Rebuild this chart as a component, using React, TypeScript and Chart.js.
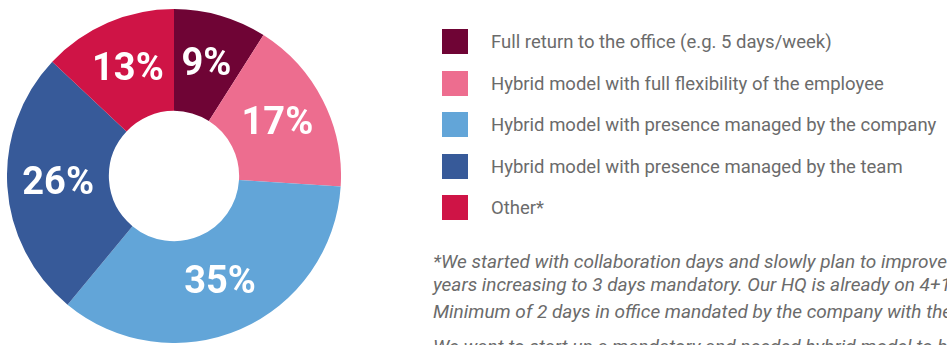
import React, { useEffect, useRef } from "react";
import { Chart, registerables } from "chart.js";

Chart.register(...registerables);

const categories = [
  "Full return to the office (e.g. 5 days/week)",
  "Hybrid model with full flexibility of the employee",
  "Hybrid model with presence managed by the company",
  "Hybrid model with presence managed by the team",
  "Other*",
];
const values = [9, 17, 35, 26, 13];
const colors = ["#6f0435", "#ed6d8f", "#62a5d8", "#375a99", "#cf1446"];
const footnoteLines = [
  "*We started with collaboration days and slowly plan to improve it over the next",
  "years increasing to 3 days mandatory. Our HQ is already on 4+1 model.",
  "Minimum of 2 days in office mandated by the company with the rest flexible.",
  "We want to start up a mandatory and needed hybrid model to be",
];
const footnoteTops = [251, 274, 301, 336];

const labelPlugin = {
  id: "sliceLabels",
  afterDatasetsDraw(chart: any) {
    const ctx = chart.ctx;
    const meta = chart.getDatasetMeta(0);
    ctx.save();
    ctx.fillStyle = "#ffffff";
    ctx.font = "bold 38px Roboto";
    ctx.textAlign = "center";
    ctx.textBaseline = "middle";
    meta.data.forEach((arc: any, i: number) => {
      const p = arc.tooltipPosition();
      ctx.fillText(values[i] + "%", p.x, p.y + 1);
    });
    ctx.restore();
  },
};

export default function App() {
  const ref = useRef<HTMLCanvasElement>(null);
  useEffect(() => {
    document.body.style.margin = "0";
    const chart = new Chart(ref.current!, {
      type: "doughnut",
      data: {
        labels: categories,
        datasets: [{ data: values, backgroundColor: colors, borderWidth: 0 }],
      },
      options: {
        animation: false,
        responsive: false,
        cutout: "39%",
        layout: { padding: 0 },
        plugins: { legend: { display: false }, tooltip: { enabled: false } },
      },
      plugins: [labelPlugin],
    });
    return () => chart.destroy();
  }, []);

  return (
    <div
      style={{
        position: "relative",
        width: 947,
        height: 345,
        overflow: "hidden",
        background: "#fff",
        fontFamily: "Roboto, sans-serif",
      }}
    >
      <canvas
        ref={ref}
        width={334}
        height={334}
        style={{ position: "absolute", left: 7, top: 9, width: 334, height: 334 }}
      />
      {categories.map((c, i) => (
        <div key={c}>
          <div
            style={{
              position: "absolute",
              left: 442,
              top: 29 + i * 41.5,
              width: 26,
              height: 25,
              background: colors[i],
            }}
          />
          <div
            style={{
              position: "absolute",
              left: 491,
              top: 30 + i * 41.5,
              fontSize: 18.5,
              lineHeight: "25px",
              color: "#6b6b6b",
              whiteSpace: "nowrap",
            }}
          >
            {c}
          </div>
        </div>
      ))}
      {footnoteLines.map((t, i) => (
        <div
          key={i}
          style={{
            position: "absolute",
            left: 433,
            top: footnoteTops[i],
            fontSize: 19,
            lineHeight: "22px",
            fontStyle: "italic",
            color: "#6b6b6b",
            whiteSpace: "nowrap",
          }}
        >
          {t}
        </div>
      ))}
    </div>
  );
}
